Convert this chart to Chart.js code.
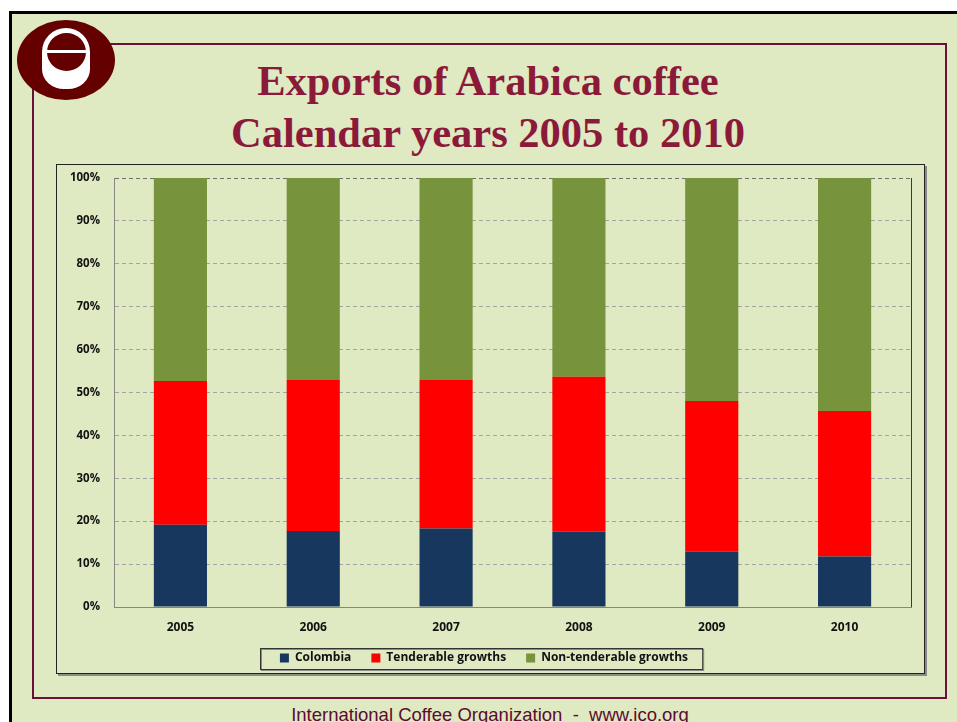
<!DOCTYPE html>
<html>
<head>
<meta charset="utf-8">
<script src="https://cdn.jsdelivr.net/npm/chart.js@4.4.0/dist/chart.umd.min.js"></script>
<style>
    html, body { margin: 0; padding: 0; background: #fff; }
    body { width: 957px; height: 722px; position: relative; overflow: hidden; }
    #slide {
        position: absolute; left: 9px; top: 11px; width: 960px; height: 720px;
        background: #DFE9C2; border-left: 3px solid #000; border-top: 3px solid #000;
    }
    #frame {
        position: absolute; left: 32px; top: 43px; width: 915px; height: 656px;
        box-sizing: border-box; border: 2px solid #6B1038;
    }
    .logo { position: absolute; }
    #logoOuter { left: 17px; top: 20px; width: 98px; height: 80px; border-radius: 50%; background: #640000; }
    #logoWhite { left: 42px; top: 28px; width: 48px; height: 61px; background: #fff;
        border-radius: 24px 24px 22px 22px / 24px 24px 20px 20px; }
    #logoInner { left: 47px; top: 33px; width: 39px; height: 38px; border-radius: 50%; background: #640000; }
    #logoBar { left: 46px; top: 50px; width: 41px; height: 3px; background: #fff; }
    .title {
        position: absolute; left: 30px; width: 916px; text-align: center;
        font-family: "Liberation Serif", "Times New Roman", serif; font-weight: bold;
        font-size: 42.5px; line-height: 42px; color: #8B1A3A; white-space: nowrap;
    }
    #chartBox {
        position: absolute; left: 56px; top: 164px; width: 869px; height: 510px;
        box-sizing: border-box; border: 1.5px solid #222; box-shadow: 2px 2px 0 #8a8a8a;
    }
    #chartCanvas { position: absolute; left: 57px; top: 165px; }
    #footer {
        position: absolute; left: 240px; width: 500px; top: 706px; text-align: center;
        font-family: "Liberation Sans", Arial, sans-serif; font-size: 18.5px; line-height: 18.5px;
        color: #5C0A2E; white-space: pre;
    }
</style>
</head>
<body>
<div id="slide"></div>
<div id="frame"></div>
<div class="logo" id="logoOuter"></div>
<div class="logo" id="logoWhite"></div>
<div class="logo" id="logoInner"></div>
<div class="logo" id="logoBar"></div>
<div class="title" style="top:60px">Exports of Arabica coffee</div>
<div class="title" style="top:112px">Calendar years 2005 to 2010</div>
<div id="chartBox"></div>
<canvas id="chartCanvas" width="866" height="507"></canvas>
<div id="footer">International Coffee Organization  -  www.ico.org</div>

<script>
// Shares of Arabica exports (percent)
const years = ["2005", "2006", "2007", "2008", "2009", "2010"];
const colombia = [19.2, 17.7, 18.3, 17.6, 12.9, 11.8];
const tenderable = [33.5, 35.2, 34.6, 36.1, 35.1, 33.9];
const nonTenderable = [47.3, 47.1, 47.1, 46.3, 52.0, 54.3];
const yTicks = [0, 10, 20, 30, 40, 50, 60, 70, 80, 90, 100];

const tickFont = { family: "'Open Sans', sans-serif", weight: "bold", size: 11.5 };

// right edge of the plot + box round the legend, like the Excel original
const framePlugin = {
    id: "frames",
    afterDraw(chart) {
        const ctx = chart.ctx;
        const area = chart.chartArea;
        ctx.save();
        ctx.strokeStyle = "#3a3a3a";
        ctx.lineWidth = 1;
        ctx.beginPath();
        ctx.moveTo(Math.round(area.right) + 0.5, area.top);
        ctx.lineTo(Math.round(area.right) + 0.5, area.bottom);
        ctx.stroke();

        const boxes = chart.legend.legendHitBoxes;
        if (boxes && boxes.length) {
            const left = Math.min(...boxes.map(b => b.left)) - 20;
            const right = Math.max(...boxes.map(b => b.left + b.width)) + 14;
            const mid = boxes[0].top + boxes[0].height / 2;
            ctx.strokeStyle = "#8a8a8a";
            ctx.strokeRect(Math.round(left) + 1.5, Math.round(mid - 10.5) + 1.5, right - left, 21);
            ctx.strokeStyle = "#333";
            ctx.strokeRect(Math.round(left) + 0.5, Math.round(mid - 10.5) + 0.5, right - left, 21);
        }
        ctx.restore();
    }
};

new Chart(document.getElementById("chartCanvas"), {
    type: "bar",
    data: {
        labels: years,
        datasets: [
            { label: "Colombia", data: colombia, backgroundColor: "#17375E" },
            { label: "Tenderable growths", data: tenderable, backgroundColor: "#FF0000" },
            { label: "Non-tenderable growths", data: nonTenderable, backgroundColor: "#77933C" }
        ]
    },
    options: {
        responsive: false,
        animation: false,
        devicePixelRatio: 1,
        datasets: { bar: { barPercentage: 0.4, categoryPercentage: 1 } },
        layout: { padding: { top: 13, right: 12, left: 0, bottom: 0 } },
        plugins: {
            tooltip: { enabled: false },
            legend: {
                position: "bottom",
                maxHeight: 40,
                labels: {
                    boxWidth: 9, boxHeight: 9, padding: 20, color: "#111",
                    font: { family: "'Open Sans', sans-serif", weight: "bold", size: 12 }
                }
            }
        },
        scales: {
            x: {
                stacked: true,
                grid: { display: false, drawTicks: false },
                border: { color: "#868686", width: 1 },
                ticks: { color: "#111", padding: 13, font: { ...tickFont, size: 12 } },
                afterFit(scale) { scale.height = 25; }
            },
            y: {
                stacked: true,
                min: 0, max: 100,
                afterBuildTicks(scale) { scale.ticks = yTicks.map(v => ({ value: v })); },
                grid: {
                    drawTicks: true,
                    tickLength: 14,
                    tickColor: "rgba(0,0,0,0)",
                    color: c => (c.tick && c.tick.value === 100 ? "#6f6f6f" : "#a3a3a3"),
                    lineWidth: 1
                },
                border: { color: "#868686", width: 1, dash: [4, 3] },
                ticks: { color: "#111", padding: 0, font: tickFont, callback: v => v + "%" },
                afterFit(scale) { scale.width = 57; }
            }
        }
    },
    plugins: [framePlugin]
});
</script>
</body>
</html>
